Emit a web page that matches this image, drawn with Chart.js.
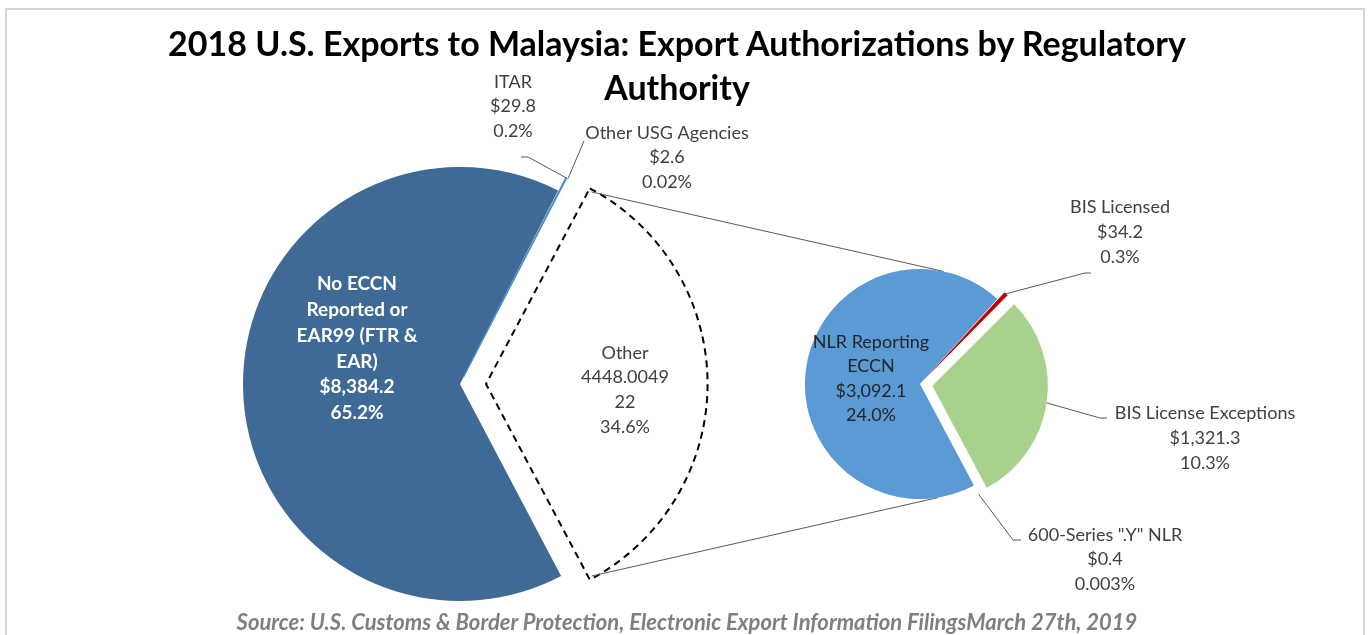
<!DOCTYPE html>
<html>
<head>
<meta charset="utf-8">
<script src="https://cdn.jsdelivr.net/npm/chart.js"></script>
<style>
    html, body { margin: 0; padding: 0; background: #fff; }
    body { width: 1368px; height: 635px; position: relative; overflow: hidden; font-family: Lato, sans-serif; }
    #frame { position: absolute; left: 5px; top: 8px; width: 1360px; height: 700px; border: 2px solid #d6d6d6; box-sizing: border-box; }
    canvas { position: absolute; left: 0; top: 0; }
    #title { position: absolute; left: 0; top: 21px; width: 1354px; text-align: center; font: bold 34px Lato, sans-serif; line-height: 44px; color: #000; }
    #source { position: absolute; left: 0; top: 608px; width: 1374px; text-align: center; font: italic bold 22px Lato, sans-serif; color: #7f7f7f; line-height: 28px; }
</style>
</head>
<body>
<div id="frame"></div>
<canvas id="mainPie" width="1368" height="635"></canvas>
<canvas id="subPie" width="1368" height="635"></canvas>
<div id="title">2018 U.S. Exports to Malaysia: Export Authorizations by Regulatory<br>Authority</div>
<div id="source">Source: U.S. Customs &amp; Border Protection, Electronic Export Information FilingsMarch 27th, 2019</div>
<script>
// first pie ($ millions)
const mainLabels = [['No ECCN', 'Reported or', 'EAR99 (FTR &', 'EAR)'], ['ITAR'], ['Other USG Agencies'], ['Other']];
const mainValues = [8384.2, 29.8, 2.6, 4448.0];
const mainPct = ['65.2%', '0.2%', '0.02%', '34.6%'];
const mainColors = ['#3E6A95', '#4A8BC9', '#A5A5A5', 'rgba(0,0,0,0)'];
const otherText = ['Other', '4448.0049', '22', '34.6%'];

// breakdown of "Other"
const subLabels = [['NLR Reporting', 'ECCN'], ['BIS Licensed'], ['BIS License Exceptions'], ['600-Series ".Y" NLR']];
const subValues = [3092.1, 34.2, 1321.3, 0.4];
const subPct = ['24.0%', '0.3%', '10.3%', '0.003%'];
const subColors = ['#5B9BD5', '#C00000', '#A9D18E', '#FFC000'];

function fmtUSD(v) {
    return '$' + v.toLocaleString('en-US', { minimumFractionDigits: 1, maximumFractionDigits: 1 });
}

// same shift chart.js applies for an exploded arc
function explodeShift(el) {
    const off = (el.options.offset || 0) / 4;
    const fix = 1 - Math.sin(Math.min(Math.PI, el.circumference || 0));
    return off + off * fix;
}

function edgePoint(el, angle) {
    const mid = (el.startAngle + el.endAngle) / 2;
    const s = explodeShift(el);
    return [el.x + Math.cos(mid) * s + Math.cos(angle) * el.outerRadius,
            el.y + Math.sin(mid) * s + Math.sin(angle) * el.outerRadius];
}

const sliceLabels = {
    id: 'sliceLabels',
    afterDatasetsDraw(chart, args, opts) {
        const ctx = chart.ctx;
        const arcs = chart.getDatasetMeta(0).data;
        ctx.save();
        opts.items.forEach((it, i) => {
            const el = arcs[i];
            if (it.leader) {
                const p0 = edgePoint(el, (el.startAngle + el.endAngle) / 2);
                ctx.beginPath();
                ctx.moveTo(p0[0], p0[1]);
                it.leader.forEach(p => ctx.lineTo(p[0], p[1]));
                ctx.strokeStyle = '#595959';
                ctx.lineWidth = 1;
                ctx.stroke();
            }
            ctx.font = (it.bold ? 'bold 19px' : '18px') + ' Lato, sans-serif';
            ctx.fillStyle = it.color || '#404040';
            ctx.textAlign = 'center';
            ctx.textBaseline = 'middle';
            it.lines.forEach((t, k) => ctx.fillText(t, it.x, it.y + k * it.lh));
        });
        ctx.restore();
    }
};

const otherDeg = mainValues[3] / mainValues.reduce((a, b) => a + b, 0) * 360;

const mainChart = new Chart(document.getElementById('mainPie'), {
    type: 'pie',
    data: {
        labels: mainLabels.map(l => l.join(' ')),
        datasets: [{
            data: mainValues,
            backgroundColor: mainColors,
            borderColor: ['#fff', '#4A8BC9', '#fff', '#000'],
            borderWidth: [0, 1.2, 0, 2],
            borderDash: (c) => c.dataIndex === 3 ? [7, 5] : [],
            borderJoinStyle: 'miter',
            offset: [0, 30, 30, 104]
        }]
    },
    options: {
        responsive: false,
        animation: false,
        events: [],
        rotation: 90 + otherDeg / 2,
        radius: 217,
        layout: { padding: { left: 0, right: 448, top: 133, bottom: 0 } },
        plugins: {
            legend: { display: false },
            tooltip: { enabled: false },
            sliceLabels: {
                items: [
                    { x: 357, y: 284, lh: 25.8, color: '#fff', bold: true,
                      lines: [...mainLabels[0], fmtUSD(mainValues[0]), mainPct[0]] },
                    { x: 513, y: 82, lh: 24.5, leader: [[528, 157], [521, 157]],
                      lines: [...mainLabels[1], fmtUSD(mainValues[1]), mainPct[1]] },
                    { x: 667, y: 133, lh: 24.5, leader: [[584, 141]],
                      lines: [...mainLabels[2], fmtUSD(mainValues[2]), mainPct[2]] },
                    { x: 625, y: 353, lh: 24.6, lines: otherText }
                ]
            }
        }
    },
    plugins: [sliceLabels]
});

// lines joining the "Other" slice to the second pie
const connectors = {
    id: 'connectors',
    beforeDatasetsDraw(chart) {
        const other = mainChart.getDatasetMeta(0).data[3];
        const sub = chart.getDatasetMeta(0).data[0];
        const a = edgePoint(other, other.startAngle);
        const b = edgePoint(other, other.endAngle);
        const r = sub.outerRadius;
        const top = [sub.x + Math.cos(-78 * Math.PI / 180) * r, sub.y + Math.sin(-78 * Math.PI / 180) * r];
        const bot = [sub.x + Math.cos(81 * Math.PI / 180) * r, sub.y + Math.sin(81 * Math.PI / 180) * r];
        const ctx = chart.ctx;
        ctx.save();
        ctx.strokeStyle = '#595959';
        ctx.lineWidth = 1;
        ctx.beginPath();
        ctx.moveTo(a[0], a[1]); ctx.lineTo(top[0], top[1]);
        ctx.moveTo(b[0], b[1]); ctx.lineTo(bot[0], bot[1]);
        ctx.stroke();
        ctx.restore();
    }
};

new Chart(document.getElementById('subPie'), {
    type: 'pie',
    data: {
        labels: subLabels.map(l => l.join(' ')),
        datasets: [{
            data: subValues,
            backgroundColor: subColors,
            borderWidth: 0,
            offset: [0, 20, 50, 20]
        }]
    },
    options: {
        responsive: false,
        animation: false,
        events: [],
        rotation: 152,
        radius: 115,
        layout: { padding: { left: 472, right: 0, top: 133, bottom: 0 } },
        plugins: {
            legend: { display: false },
            tooltip: { enabled: false },
            sliceLabels: {
                items: [
                    { x: 871, y: 342, lh: 24.5, color: '#262626',
                      lines: [...subLabels[0], fmtUSD(subValues[0]), subPct[0]] },
                    { x: 1120, y: 207, lh: 25, leader: [[1085, 273], [1091, 273]],
                      lines: [...subLabels[1], fmtUSD(subValues[1]), subPct[1]] },
                    { x: 1205, y: 413, lh: 25, leader: [[1100, 418], [1107, 418]],
                      lines: [...subLabels[2], fmtUSD(subValues[2]), subPct[2]] },
                    { x: 1105, y: 535, lh: 24.5, leader: [[1013, 540], [1021, 540]],
                      lines: [...subLabels[3], fmtUSD(subValues[3]), subPct[3]] }
                ]
            }
        }
    },
    plugins: [connectors, sliceLabels]
});
</script>
</body>
</html>
